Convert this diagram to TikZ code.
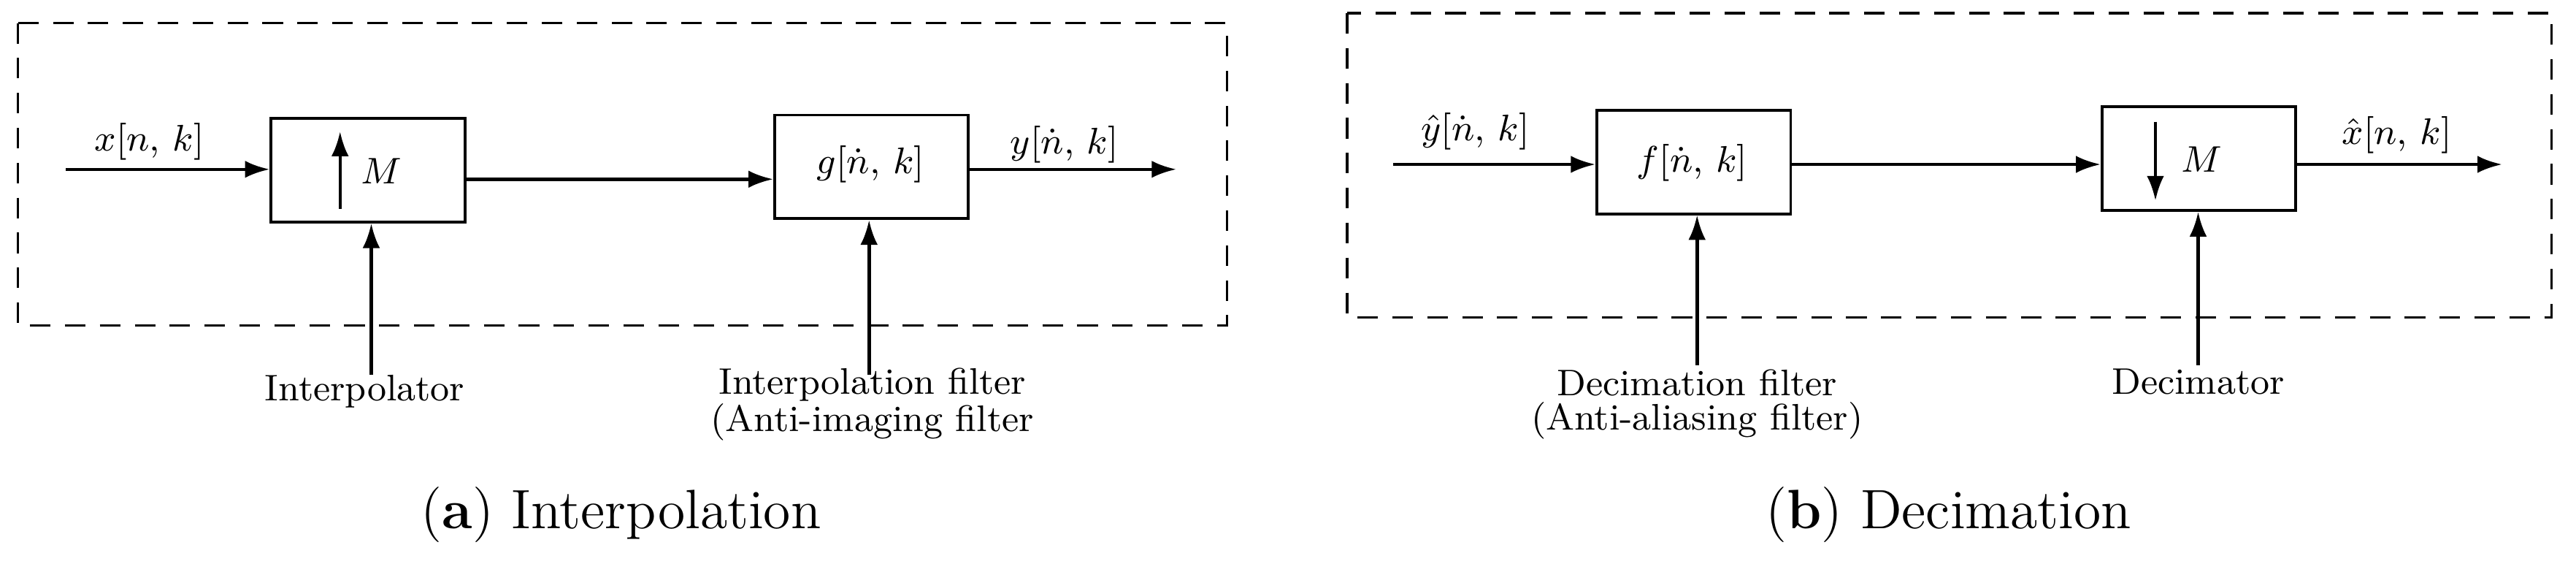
\documentclass[tikz,border=0pt]{standalone}
\usetikzlibrary{arrows.meta}
\begin{document}
\begin{tikzpicture}[x=0.4pt,y=-0.4pt,
  blk/.style={draw,line width=0.7pt,minimum width=47.2pt,minimum height=25.2pt,inner sep=0pt},
  sig/.style={line width=0.8pt,-{Latex[length=6pt,width=4.2pt]}},
  frame/.style={draw,line width=0.6pt,dash pattern=on 5pt off 3.5pt},
  lbl/.style={inner sep=0pt,font=\small},
  captext/.style={inner sep=0pt,font=\fontsize{13.5}{16}\selectfont}]
\useasboundingbox (0,0) rectangle (1568,343);
% (a)
\draw[frame] (11,14) rectangle (747,198);
\node[blk] (b1) at (224,103.5) {};
\node[blk] (b2) at (530.5,101.5) {};
\coordinate (in1) at (40,103);
\coordinate (out1) at (716,103);
\coordinate (i1) at (226,228);
\coordinate (i2) at (529,228);
\coordinate (ua) at (207,127);
\coordinate (ub) at (207,80);
\draw[sig] (in1) -- (b1.west |- in1);
\draw[sig] (ua) -- (ub);
\node[lbl] (m1) at (232,104) {$M$};
\draw[sig] (b1.east |- 0,109) -- (b2.west |- 0,109);
\node[lbl] (g) at (530,100) {$g[\dot n,\,k]$};
\draw[sig] (b2.east |- out1) -- (out1);
\node[lbl] (xl) at (91,86) {$x[n,\,k]$};
\node[lbl] (yl) at (648,88) {$y[\dot n,\,k]$};
\draw[sig] (i1) -- (i1 |- b1.south);
\draw[sig] (i2) -- (i2 |- b2.south);
\node[lbl] (t1) at (222,238) {Interpolator};
\node[lbl] (t2) at (531,234) {Interpolation filter};
\node[lbl] (t3) at (531,257) {(Anti-imaging filter};
\node[captext] (ca) at (378,313) {(\textbf{a}) Interpolation};
% (b)
\draw[frame] (820,8) rectangle (1553,193);
\node[blk] (b3) at (1031,98.5) {};
\node[blk] (b4) at (1338.5,96.5) {};
\coordinate (in2) at (848,100);
\coordinate (out2) at (1523,100);
\coordinate (i3) at (1033,222);
\coordinate (i4) at (1338,222);
\coordinate (da) at (1312,74);
\coordinate (db) at (1312,122);
\draw[sig] (in2) -- (b3.west |- in2);
\node[lbl] (f) at (1030,99) {$f[\dot n,\,k]$};
\draw[sig] (b3.east |- 0,100) -- (b4.west |- 0,100);
\draw[sig] (da) -- (db);
\node[lbl] (m2) at (1340,97) {$M$};
\draw[sig] (b4.east |- out2) -- (out2);
\node[lbl] (yh) at (898,80) {$\hat y[\dot n,\,k]$};
\node[lbl] (xh) at (1459,82) {$\hat x[n,\,k]$};
\draw[sig] (i3) -- (i3 |- b3.south);
\draw[sig] (i4) -- (i4 |- b4.south);
\node[lbl] (t4) at (1033,233) {Decimation filter};
\node[lbl] (t5) at (1033,256) {(Anti-aliasing filter)};
\node[lbl] (t6) at (1338,232) {Decimator};
\node[captext] (cb) at (1186,313) {(\textbf{b}) Decimation};
\end{tikzpicture}
\end{document}
